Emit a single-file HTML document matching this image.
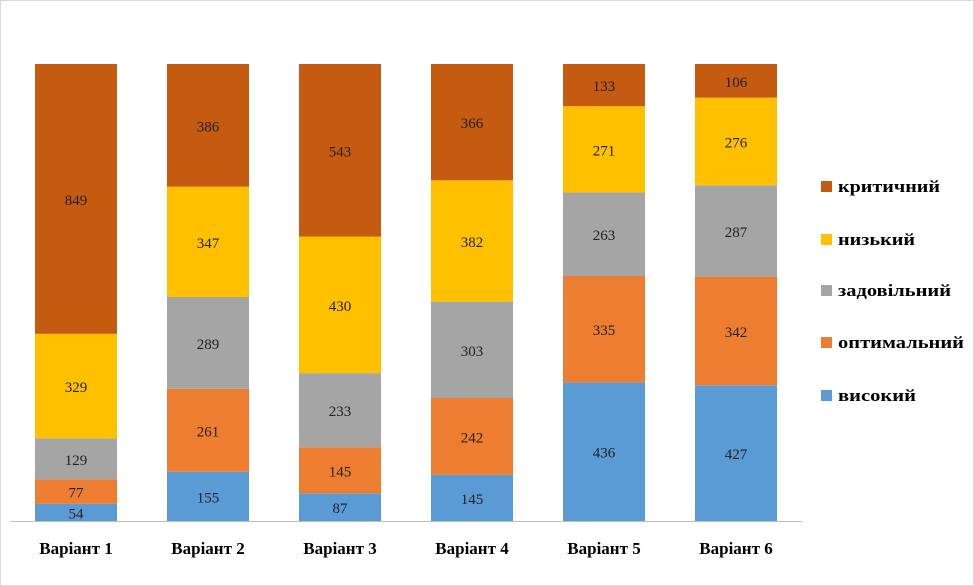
<!DOCTYPE html>
<html><head><meta charset="utf-8">
<style>
body{margin:0;background:#fff;}
#wrap{position:relative;width:974px;height:586px;overflow:hidden;}
svg text{font-family:"Liberation Serif",serif;}
</style></head>
<body>
<div id="wrap">
<svg id="chart" width="974" height="586">
<rect x="0.5" y="0.5" width="973" height="585" fill="#fff" stroke="#d9d9d9"/>
</svg>
</div>
<script>
const categories=["Варіант 1","Варіант 2","Варіант 3","Варіант 4","Варіант 5","Варіант 6"];
const seriesNames=["високий","оптимальний","задовільний","низький","критичний"];
const high=[54,155,87,145,436,427];
const optimal=[77,261,145,242,335,342];
const satisfactory=[129,289,233,303,263,287];
const low=[329,347,430,382,271,276];
const critical=[849,386,543,366,133,106];
const series=[high,optimal,satisfactory,low,critical];
const colors=["#5B9BD5","#ED7D31","#A5A5A5","#FFC000","#C55A11"];
const names=["high","optimal","satisfactory","low","critical"];

const svg=document.getElementById('chart');
const NS="http://www.w3.org/2000/svg";
const plotL=10,plotR=802,plotT=64,plotB=521;
const slot=(plotR-plotL)/categories.length;
const barW=82;
function xCenter(i){return plotL+slot*(i+0.5);}
function yScale(frac){return plotB-frac*(plotB-plotT);}

categories.forEach((c,i)=>{
  const total=series.reduce((s,a)=>s+a[i],0);
  let cum=0;
  series.forEach((arr,k)=>{
    const v=arr[i];
    const y0=yScale(cum/total), y1=yScale((cum+v)/total);
    cum+=v;
    const r=document.createElementNS(NS,'rect');
    r.setAttribute('x',xCenter(i)-barW/2);
    r.setAttribute('y',y1);
    r.setAttribute('width',barW);
    r.setAttribute('height',y0-y1);
    r.setAttribute('fill',colors[k]);
    
    
    svg.appendChild(r);
    const t=document.createElementNS(NS,'text');
    t.setAttribute('x',xCenter(i));
    t.setAttribute('y',(y0+y1)/2+6);
    t.setAttribute('text-anchor','middle');
    t.setAttribute('font-size','15');
    t.setAttribute('fill','#222');
    t.textContent=v;
    
    
    svg.appendChild(t);
  });
  const lbl=document.createElementNS(NS,'text');
  lbl.setAttribute('x',xCenter(i));
  lbl.setAttribute('y',554);
  lbl.setAttribute('text-anchor','middle');
  lbl.setAttribute('font-size','17');
  lbl.setAttribute('font-weight','bold');
  lbl.setAttribute('fill','#000');
  lbl.textContent=c;
  
  
  svg.appendChild(lbl);
});
const ax=document.createElementNS(NS,'line');
ax.setAttribute('x1',plotL);ax.setAttribute('x2',plotR);
ax.setAttribute('y1',plotB+0.5);ax.setAttribute('y2',plotB+0.5);
ax.setAttribute('stroke','#bfbfbf');


svg.appendChild(ax);

const legendY=[395,342,290,239,186];
const legendW=[78,126,113,77,102];
seriesNames.forEach((n,k)=>{
  const g=document.createElementNS(NS,'g');
  
  
  const r=document.createElementNS(NS,'rect');
  r.setAttribute('x',821);r.setAttribute('y',legendY[k]-5);
  r.setAttribute('width',11);r.setAttribute('height',11);
  r.setAttribute('fill',colors[k]);
  g.appendChild(r);
  const t=document.createElementNS(NS,'text');
  t.setAttribute('x',838);t.setAttribute('y',legendY[k]+6);
  t.setAttribute('font-size','17');t.setAttribute('font-weight','bold');
  t.setAttribute('textLength',legendW[k]);
  t.setAttribute('lengthAdjust','spacingAndGlyphs');
  t.textContent=n;
  g.appendChild(t);
  svg.appendChild(g);
});
</script>
</body></html>
